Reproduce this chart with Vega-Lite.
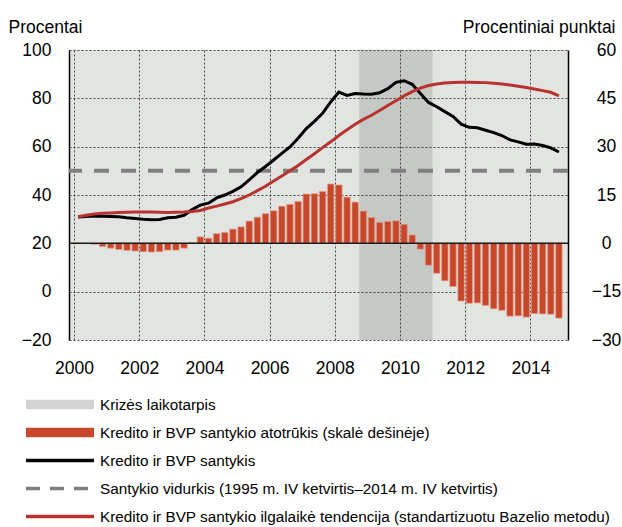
{
  "$schema": "https://vega.github.io/schema/vega-lite/v6.json",
  "width": 499,
  "height": 290,
  "autosize": "none",
  "padding": {"left": 69, "top": 50, "right": 54, "bottom": 187},
  "background": "white",
  "config": {
    "font": "Liberation Sans, Arial, sans-serif",
    "view": {"stroke": null, "fill": "#e1e4e0"},
    "axis": {"labelColor": "black", "titleColor": "black", "titleFontWeight": "normal"}
  },
  "datasets": {
    "crisis": [{"start": 2008.75, "end": 2011.0}],
    "q": [
      {"t": 2000.125, "gap": 0.1, "ratio": 30.9, "trend": 31.0},
      {"t": 2000.375, "gap": -0.1, "ratio": 31.1, "trend": 31.6},
      {"t": 2000.625, "gap": -0.3, "ratio": 31.3, "trend": 32.1},
      {"t": 2000.875, "gap": -1.0, "ratio": 31.2, "trend": 32.4},
      {"t": 2001.125, "gap": -1.5, "ratio": 31.1, "trend": 32.6},
      {"t": 2001.375, "gap": -1.9, "ratio": 31.0, "trend": 32.8},
      {"t": 2001.625, "gap": -2.2, "ratio": 30.6, "trend": 32.9},
      {"t": 2001.875, "gap": -2.4, "ratio": 30.3, "trend": 33.0},
      {"t": 2002.125, "gap": -2.6, "ratio": 30.0, "trend": 33.0},
      {"t": 2002.375, "gap": -2.7, "ratio": 29.8, "trend": 33.0},
      {"t": 2002.625, "gap": -2.6, "ratio": 29.9, "trend": 32.9},
      {"t": 2002.875, "gap": -2.1, "ratio": 30.6, "trend": 32.8},
      {"t": 2003.125, "gap": -2.1, "ratio": 30.8, "trend": 32.9},
      {"t": 2003.375, "gap": -1.5, "ratio": 31.6, "trend": 33.0},
      {"t": 2003.625, "gap": 0.2, "ratio": 34.0, "trend": 33.2},
      {"t": 2003.875, "gap": 2.0, "ratio": 35.8, "trend": 33.6},
      {"t": 2004.125, "gap": 1.6, "ratio": 36.6, "trend": 34.6},
      {"t": 2004.375, "gap": 3.0, "ratio": 38.8, "trend": 35.4},
      {"t": 2004.625, "gap": 3.4, "ratio": 40.0, "trend": 36.3},
      {"t": 2004.875, "gap": 4.4, "ratio": 41.5, "trend": 37.2},
      {"t": 2005.125, "gap": 5.1, "ratio": 43.4, "trend": 38.5},
      {"t": 2005.375, "gap": 6.9, "ratio": 46.3, "trend": 40.0},
      {"t": 2005.625, "gap": 8.1, "ratio": 49.3, "trend": 41.8},
      {"t": 2005.875, "gap": 9.2, "ratio": 51.8, "trend": 43.6},
      {"t": 2006.125, "gap": 10.1, "ratio": 54.5, "trend": 45.8},
      {"t": 2006.375, "gap": 11.5, "ratio": 57.2, "trend": 47.9},
      {"t": 2006.625, "gap": 12.1, "ratio": 59.9, "trend": 50.0},
      {"t": 2006.875, "gap": 13.0, "ratio": 63.5, "trend": 52.2},
      {"t": 2007.125, "gap": 15.3, "ratio": 67.5, "trend": 54.7},
      {"t": 2007.375, "gap": 15.4, "ratio": 70.5, "trend": 57.1},
      {"t": 2007.625, "gap": 16.1, "ratio": 73.8, "trend": 59.6},
      {"t": 2007.875, "gap": 18.4, "ratio": 78.5, "trend": 62.0},
      {"t": 2008.125, "gap": 18.1, "ratio": 82.6, "trend": 64.6},
      {"t": 2008.375, "gap": 14.3, "ratio": 81.2, "trend": 67.0},
      {"t": 2008.625, "gap": 12.8, "ratio": 82.0, "trend": 69.3},
      {"t": 2008.875, "gap": 10.0, "ratio": 81.8, "trend": 71.3},
      {"t": 2009.125, "gap": 8.0, "ratio": 81.7, "trend": 73.0},
      {"t": 2009.375, "gap": 6.5, "ratio": 82.3, "trend": 75.0},
      {"t": 2009.625, "gap": 6.8, "ratio": 84.0, "trend": 77.0},
      {"t": 2009.875, "gap": 7.0, "ratio": 86.6, "trend": 79.0},
      {"t": 2010.125, "gap": 5.9, "ratio": 87.3, "trend": 81.0},
      {"t": 2010.375, "gap": 2.6, "ratio": 85.8, "trend": 82.8},
      {"t": 2010.625, "gap": -1.8, "ratio": 82.0, "trend": 84.2},
      {"t": 2010.875, "gap": -6.8, "ratio": 78.3, "trend": 85.3},
      {"t": 2011.125, "gap": -9.3, "ratio": 76.5, "trend": 85.9},
      {"t": 2011.375, "gap": -11.6, "ratio": 74.5, "trend": 86.3},
      {"t": 2011.625, "gap": -13.4, "ratio": 72.5, "trend": 86.6},
      {"t": 2011.875, "gap": -17.9, "ratio": 69.3, "trend": 86.7},
      {"t": 2012.125, "gap": -18.6, "ratio": 68.0, "trend": 86.7},
      {"t": 2012.375, "gap": -18.5, "ratio": 67.8, "trend": 86.6},
      {"t": 2012.625, "gap": -19.3, "ratio": 66.8, "trend": 86.5},
      {"t": 2012.875, "gap": -20.3, "ratio": 65.8, "trend": 86.2},
      {"t": 2013.125, "gap": -20.8, "ratio": 64.6, "trend": 85.9},
      {"t": 2013.375, "gap": -22.6, "ratio": 62.8, "trend": 85.5},
      {"t": 2013.625, "gap": -22.5, "ratio": 62.0, "trend": 85.0},
      {"t": 2013.875, "gap": -22.9, "ratio": 61.0, "trend": 84.5},
      {"t": 2014.125, "gap": -21.8, "ratio": 61.1, "trend": 83.9},
      {"t": 2014.375, "gap": -21.9, "ratio": 60.5, "trend": 83.2},
      {"t": 2014.625, "gap": -22.0, "ratio": 59.5, "trend": 82.5},
      {"t": 2014.875, "gap": -23.2, "ratio": 57.8, "trend": 81.0}
    ]
  },
  "resolve": {"scale": {"y": "independent"}, "axis": {"y": "independent"}},
  "layer": [
    {
      "data": {"name": "crisis"},
      "mark": {"type": "rect", "color": "#000000", "opacity": 0.12},
      "encoding": {
        "x": {
          "field": "start", "type": "quantitative",
          "scale": {"domain": [2000, 2015], "nice": false, "zero": false},
          "axis": {
            "values": [2000, 2002, 2004, 2006, 2008, 2010, 2012, 2014],
            "format": "d", "grid": true, "gridColor": "#222222", "gridDash": [2, 2], "gridWidth": 0.8,
            "domain": false, "ticks": false, "tickSize": 0, "labelPadding": 19, "labelFontSize": 17.5,
            "title": null
          }
        },
        "x2": {"field": "end"}
      }
    },
    {
      "data": {"name": "q"},
      "mark": {"type": "bar", "size": 6.4, "stroke": "#e49c88", "strokeWidth": 0.7},
      "encoding": {
        "x": {"field": "t", "type": "quantitative"},
        "y": {
          "field": "gap", "type": "quantitative",
          "scale": {"domain": [-30, 60], "nice": false, "zero": false},
          "axis": {
            "orient": "right", "values": [-30, -15, 0, 15, 30, 45, 60], "grid": false,
            "domain": true, "domainColor": "black", "domainWidth": 1.5,
            "ticks": false, "tickSize": 0, "labelPadding": 38, "labelAlign": "center", "labelFontSize": 17.5,
            "title": "Procentiniai punktai", "titleAngle": 0, "titleAlign": "right", "titleBaseline": "alphabetic",
            "titleX": 47, "titleY": -18, "titleFontSize": 17.5
          }
        },
        "color": {
          "datum": "Kredito ir BVP santykio atotrūkis (skalė dešinėje)", "type": "nominal",
          "scale": {
            "domain": [
              "Krizės laikotarpis",
              "Kredito ir BVP santykio atotrūkis (skalė dešinėje)",
              "Kredito ir BVP santykis",
              "Santykio vidurkis (1995 m. IV ketvirtis–2014 m. IV ketvirtis)",
              "Kredito ir BVP santykio ilgalaikė tendencija (standartizuotu Bazelio metodu)"
            ],
            "range": ["#d4d4d4", "#c8472b", "#000000", "#808080", "#b8332e"]
          },
          "legend": {
            "title": null, "orient": "none", "legendX": -45, "legendY": 346, "padding": 0,
            "symbolType": "stroke", "symbolSize": 4624,
            "symbolStrokeWidth": {"expr": "(datum.index <= 1 ? 9.5 : 3.3)"},
            "symbolDash": {"expr": "(datum.index == 3 ? [14, 10] : [])"},
            "symbolOpacity": 1,
            "clipHeight": 17, "rowPadding": 11,
            "labelFontSize": 15.3, "labelOffset": 4, "labelLimit": 700, "labelColor": "black"
          }
        }
      }
    },
    {
      "layer": [
        {
          "data": {"values": [{}]},
          "mark": {"type": "rule", "color": "#1a1a1a", "strokeWidth": 1.5},
          "encoding": {"y": {"datum": 20, "type": "quantitative"}}
        },
        {
          "data": {"values": [{}]},
          "mark": {"type": "rule", "strokeWidth": 4, "strokeDash": [15, 12]},
          "encoding": {
            "y": {"datum": 50, "type": "quantitative"},
            "color": {"datum": "Santykio vidurkis (1995 m. IV ketvirtis–2014 m. IV ketvirtis)", "type": "nominal"}
          }
        },
        {
          "data": {"name": "q"},
          "mark": {"type": "line", "strokeWidth": 3},
          "encoding": {
            "x": {"field": "t", "type": "quantitative"},
            "y": {
              "field": "ratio", "type": "quantitative",
              "scale": {"domain": [-20, 100], "nice": false, "zero": false},
              "axis": {
                "orient": "left", "values": [-20, 0, 20, 40, 60, 80, 100],
                "grid": true, "gridColor": "#222222", "gridDash": [2, 2], "gridWidth": 0.8,
                "domain": true, "domainColor": "black", "domainWidth": 1.5,
                "ticks": false, "tickSize": 0, "labelPadding": 18, "labelFontSize": 17.5,
                "title": "Procentai", "titleAngle": 0, "titleAlign": "left", "titleBaseline": "alphabetic",
                "titleX": -61, "titleY": -18, "titleFontSize": 17.5
              }
            },
            "color": {"datum": "Kredito ir BVP santykis", "type": "nominal"}
          }
        },
        {
          "data": {"name": "q"},
          "mark": {"type": "line", "strokeWidth": 3},
          "encoding": {
            "x": {"field": "t", "type": "quantitative"},
            "y": {"field": "trend", "type": "quantitative"},
            "color": {"datum": "Kredito ir BVP santykio ilgalaikė tendencija (standartizuotu Bazelio metodu)", "type": "nominal"}
          }
        }
      ]
    }
  ]
}
